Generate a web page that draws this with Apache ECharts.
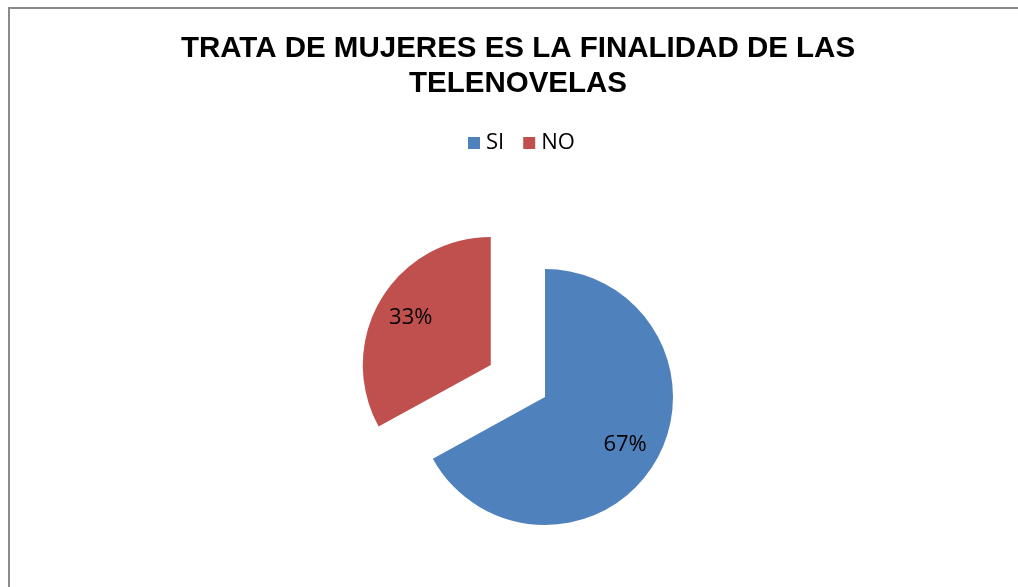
<!DOCTYPE html>
<html>
<head>
<meta charset="utf-8">
<script src="https://cdn.jsdelivr.net/npm/echarts@6/dist/echarts.min.js"></script>
<style>html,body{margin:0;padding:0;background:#fff}#c{width:1018px;height:587px}</style>
</head>
<body>
<div id="c"></div>
<script>
var titleText = 'TRATA DE MUJERES ES LA FINALIDAD DE LAS\nTELENOVELAS';
var categories = ['SI', 'NO'];
var values = [67, 33];
var colors = ['#4F81BD', '#C0504D'];

var chart = echarts.init(document.getElementById('c'));
var pieData = categories.map(function (c, i) {
  return { name: c, value: values[i], selected: c === 'NO', itemStyle: { color: colors[i] } };
});
var labelData = categories.map(function (c, i) {
  return { name: c, value: values[i], selected: c === 'NO' };
});
chart.setOption({
  backgroundColor: '#fff',
  animation: false,
  title: {
    text: titleText,
    left: 518,
    textAlign: 'center',
    top: 31,
    padding: 0,
    textStyle: { fontFamily: 'Liberation Sans', fontWeight: 'bold', fontSize: 29.5, lineHeight: 35.5, color: '#000' }
  },
  legend: {
    data: categories,
    top: 127,
    left: 463,
    icon: 'rect',
    itemWidth: 12,
    itemHeight: 12,
    itemGap: 19,
    selectedMode: false,
    textStyle: { fontFamily: 'Open Sans', fontSize: 22, color: '#000', padding: [0, 0, 0, 1] }
  },
  graphic: [{
    type: 'rect',
    shape: { x: 9, y: 8, width: 1200, height: 800 },
    style: { fill: 'none', stroke: '#8a8a8a', lineWidth: 2 },
    silent: true
  }],
  series: [{
    type: 'pie',
    center: [545, 397],
    radius: [0, 128],
    startAngle: 90,
    clockwise: true,
    selectedMode: 'multiple',
    selectedOffset: 63,
    label: { show: false },
    labelLine: { show: false },
    emphasis: { disabled: true },
    data: pieData
  }, {
    type: 'pie',
    center: [545, 397],
    radius: [52, 128],
    startAngle: 90,
    clockwise: true,
    selectedMode: 'multiple',
    selectedOffset: 63,
    silent: true,
    itemStyle: { color: 'rgba(0,0,0,0)' },
    label: {
      show: true,
      position: 'inside',
      formatter: function (p) { return Math.round(p.percent) + '%'; },
      fontFamily: 'Open Sans',
      fontSize: 22,
      color: '#000'
    },
    labelLine: { show: false },
    emphasis: { disabled: true },
    data: labelData
  }]
});
</script>
</body>
</html>
